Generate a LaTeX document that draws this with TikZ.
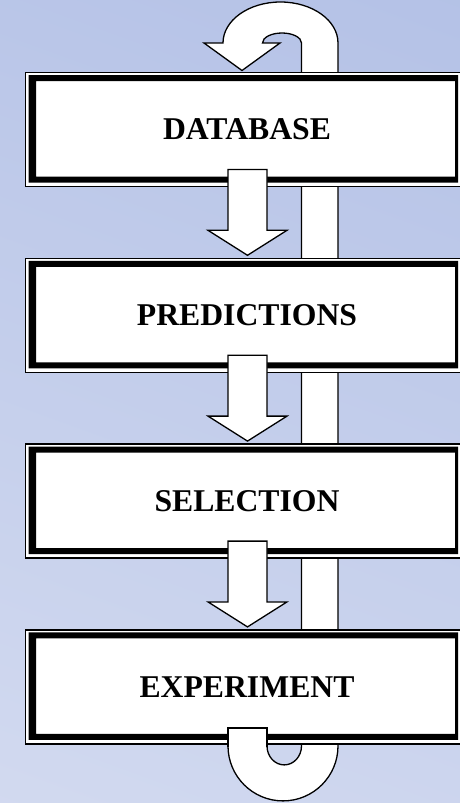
\documentclass[tikz,border=0pt]{standalone}
\usepackage{fontspec}
\setmainfont{Liberation Serif}
\usetikzlibrary{calc}
\definecolor{bgtop}{RGB}{166,182,226}
\definecolor{bgbot}{RGB}{224,229,244}
\pgfdeclarelayer{bg}
\pgfdeclarelayer{back}
\pgfsetlayers{bg,back,main}
\tikzset{
  stage/.style={draw=black, fill=white, line width=1.5pt,
    minimum width=443pt, minimum height=114pt, inner sep=0pt, outer sep=0pt,
    font=\fontsize{31.7}{38}\selectfont\bfseries},
  blockarrow/.style={draw=black, fill=white, line width=1.3pt, line join=miter},
  band/.style={fill=black, even odd rule},
}
\begin{document}
\begin{tikzpicture}[x=1pt, y=-1pt]
\useasboundingbox (0,0) rectangle (460,803);
\clip (0,0) rectangle (460,803);

% stages of the cycle
\foreach \n/\k/\txt in {db/0/DATABASE, pr/1/PREDICTIONS, se/2/SELECTION, ex/3/EXPERIMENT}{
  \node[stage] (\n) at (247, 72.5+185.8*\k+57) {\txt};
  \fill[band]
    ([xshift=3pt, yshift=-2.5pt]\n.north west) rectangle ([xshift=-10.5pt, yshift=4pt]\n.south east)
    ([xshift=10.5pt, yshift=-8.5pt]\n.north west) rectangle ([xshift=-13.5pt, yshift=10pt]\n.south east);
}

% page background
\begin{pgfonlayer}{bg}
  \clip (0,0) rectangle (460,803);
  \shade[top color=bgtop, bottom color=bgbot, shading angle=-20]
    (-670,-498.5) rectangle (1130,1301.5);
\end{pgfonlayer}

% return loop from EXPERIMENT back to DATABASE
\begin{pgfonlayer}{back}
  \draw[blockarrow]
    ([xshift=-24pt, yshift=29.5pt]db.north)
      arc[start angle=180, end angle=360, x radius=57.5, y radius=41]
    -- ([xshift=91pt, yshift=-2pt]ex.south)
      arc[start angle=0, end angle=180, x radius=55, y radius=55]
    -- ([xshift=-19pt, yshift=6pt]ex.south)
    -- ([xshift=20pt, yshift=6pt]ex.south)
    -- ([xshift=20pt, yshift=-2pt]ex.south)
      arc[start angle=180, end angle=0, x radius=17.25, y radius=19]
    -- ([xshift=54.5pt, yshift=29.5pt]db.north)
      arc[start angle=0, end angle=-180, x radius=19.5, y radius=10]
    -- ([xshift=33pt, yshift=29.5pt]db.north)
    -- ([xshift=-5pt, yshift=2pt]db.north)
    -- ([xshift=-43pt, yshift=29.5pt]db.north)
    -- cycle;
\end{pgfonlayer}

% start of the loop, lying over the EXPERIMENT frame
\fill[white] ([xshift=-19pt, yshift=16pt]ex.south) rectangle ([xshift=20pt, yshift=-3pt]ex.south);
\draw[line width=1.3pt]
  ([xshift=-19pt, yshift=-3pt]ex.south) -- ([xshift=-19pt, yshift=16pt]ex.south)
  -- ([xshift=20pt, yshift=16pt]ex.south) -- ([xshift=20pt, yshift=-3pt]ex.south);

% block arrows between consecutive stages
\foreach \a/\b in {db/pr, pr/se, se/ex}{
  \draw[blockarrow]
    ([xshift=-19pt, yshift=17pt]\a.south) -- ([xshift=20pt, yshift=17pt]\a.south)
    -- ([xshift=20pt, yshift=28pt]\b.north) -- ([xshift=40pt, yshift=28pt]\b.north)
    -- ([xshift=0.5pt, yshift=3pt]\b.north) -- ([xshift=-39pt, yshift=28pt]\b.north)
    -- ([xshift=-19pt, yshift=28pt]\b.north) -- cycle;
}
\end{tikzpicture}
\end{document}
